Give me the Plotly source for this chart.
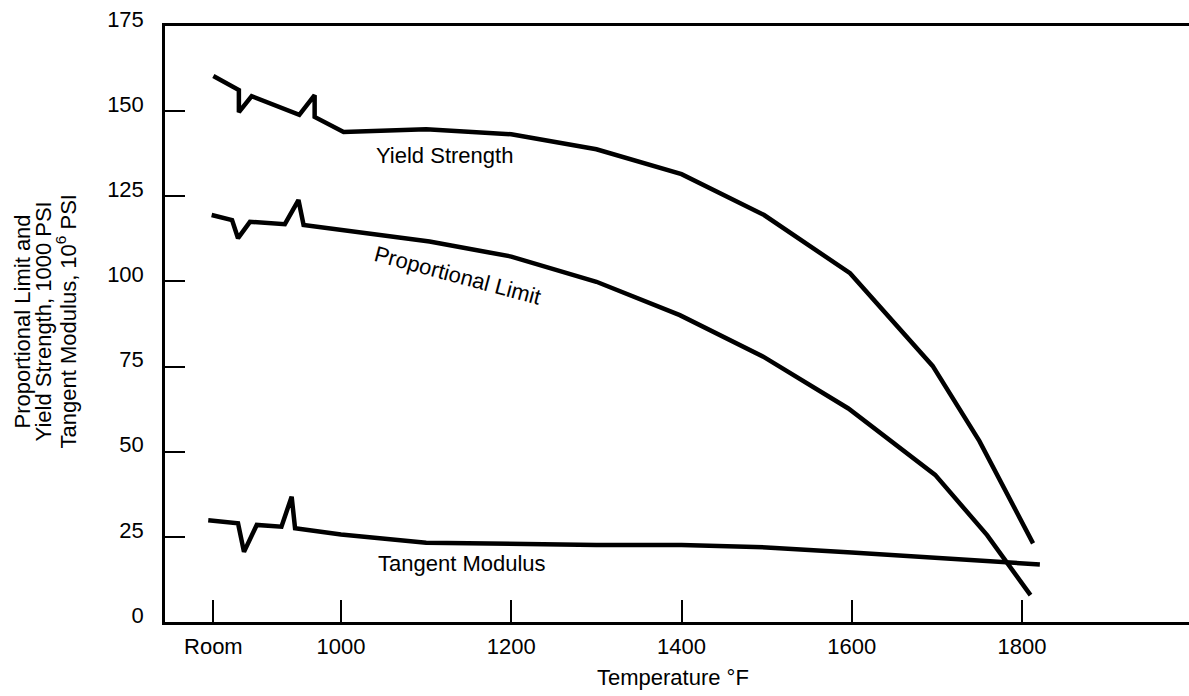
import plotly.graph_objects as go

# ---- data ----
tick_vals = [850, 1000, 1200, 1400, 1600, 1800]
tick_text = ["Room", "1000", "1200", "1400", "1600", "1800"]
y_ticks = [0, 25, 50, 75, 100, 125, 150, 175]

yield_x = [850, 880, 880, 895, 951, 969, 969, 1003, 1100, 1200, 1300, 1400, 1497, 1598, 1695, 1750, 1813]
yield_y = [160.3, 156.2, 149.7, 154.4, 148.9, 154.7, 148.3, 143.9, 144.7, 143.2, 138.8, 131.5, 119.5, 102.4, 75.2, 53.1, 23.1]

prop_x = [848, 872, 879, 893, 934, 950, 956, 1004, 1104, 1200, 1300, 1398, 1496, 1596, 1698, 1759, 1810]
prop_y = [119.5, 118.0, 112.7, 117.5, 116.8, 123.9, 116.6, 115.1, 111.7, 107.3, 99.9, 90.1, 77.9, 62.7, 43.2, 25.5, 7.9]

tan_x = [844, 879, 886, 901, 930, 942, 946, 1000, 1100, 1300, 1400, 1500, 1600, 1700, 1821]
tan_y = [29.9, 29.0, 20.6, 28.5, 28.0, 36.8, 27.5, 25.7, 23.3, 22.6, 22.6, 21.9, 20.4, 18.7, 16.9]

FONT = "Liberation Sans, Arial, Helvetica, sans-serif"
FS = 22

fig = go.Figure()
for xs, ys in [(yield_x, yield_y), (prop_x, prop_y), (tan_x, tan_y)]:
    fig.add_trace(go.Scatter(x=xs, y=ys, mode="lines",
                             line=dict(color="black", width=4.5),
                             hoverinfo="skip", showlegend=False))

annos = [
    dict(text="Yield Strength", x=1122, y=137.1, xref="x", yref="y", textangle=0),
    dict(text="Proportional Limit", x=1137, y=101.8, xref="x", yref="y", textangle=15),
    dict(text="Tangent Modulus", x=1142, y=17.2, xref="x", yref="y", textangle=0),
    dict(text="Temperature °F", x=0.4965, y=-0.093, xref="paper", yref="paper", textangle=0),
    dict(text="Proportional Limit and", x=(22.4 - 165) / 1024, y=0.505, xref="paper", yref="paper", textangle=-90),
    dict(text="Yield Strength, 1000 PSI", x=(43.4 - 165) / 1024, y=0.505, xref="paper", yref="paper", textangle=-90),
    dict(text="Tangent Modulus, 10<sup>6</sup> PSI", x=(66.4 - 165) / 1024, y=0.505, xref="paper", yref="paper", textangle=-90),
]
for a in annos:
    fig.add_annotation(showarrow=False, xanchor="center", yanchor="middle",
                       font=dict(family=FONT, size=FS, color="black"), **a)

fig.update_layout(
    width=1189, height=696,
    margin=dict(l=165, r=0, t=26, b=74, pad=0),
    paper_bgcolor="white", plot_bgcolor="white",
    font=dict(family=FONT, size=FS, color="black"),
)
fig.update_xaxes(range=[793.2, 1996.2], tickvals=tick_vals, ticktext=tick_text,
                 ticks="inside", ticklen=22, tickwidth=2, tickcolor="black",
                 showline=True, linewidth=2.5, linecolor="black", mirror=True,
                 showgrid=False, zeroline=False, ticklabelstandoff=3,
                 tickfont=dict(family=FONT, size=FS, color="black"))
fig.update_yaxes(range=[0, 175], tickvals=y_ticks,
                 ticks="inside", ticklen=20, tickwidth=2, tickcolor="black",
                 showline=True, linewidth=2.5, linecolor="black",
                 showgrid=False, zeroline=False, ticklabelstandoff=14,
                 ticklabelshift=-7,
                 tickfont=dict(family=FONT, size=FS, color="black"))

fig.write_html("out.html", config={"displayModeBar": False},
               post_script="document.body.style.margin='0';")
